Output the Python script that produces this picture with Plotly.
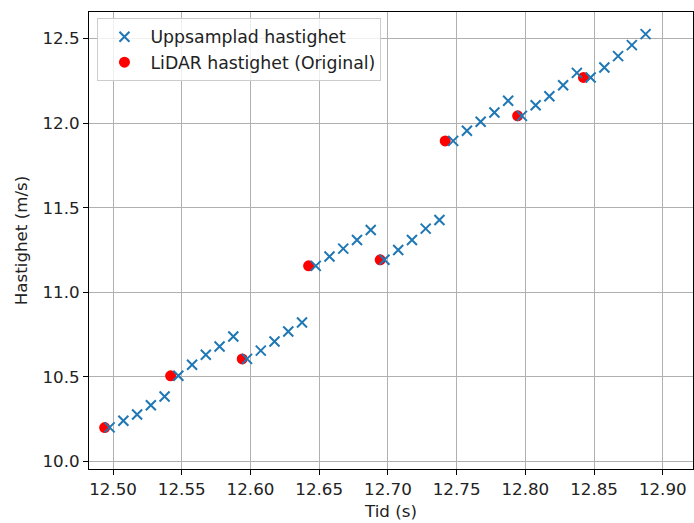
import plotly.graph_objects as go

# LiDAR speed samples (original rate)
lidar_time = [12.4939, 12.5419, 12.5940, 12.6423, 12.6944, 12.7417, 12.7944, 12.8423]
lidar_speed = [10.200, 10.506, 10.606, 11.156, 11.192, 11.895, 12.043, 12.270]

# Upsampled speed (100 Hz)
up_time = [
    12.4975, 12.5075, 12.5175, 12.5275, 12.5375,
    12.5475, 12.5575, 12.5675, 12.5775, 12.5875,
    12.5975, 12.6075, 12.6175, 12.6275, 12.6375,
    12.6475, 12.6575, 12.6675, 12.6775, 12.6875,
    12.6975, 12.7075, 12.7175, 12.7275, 12.7375,
    12.7475, 12.7575, 12.7675, 12.7775, 12.7875,
    12.7975, 12.8075, 12.8175, 12.8275, 12.8375,
    12.8475, 12.8575, 12.8675, 12.8775, 12.8875,
]
up_speed = [
    10.201, 10.240, 10.277, 10.332, 10.384,
    10.506, 10.571, 10.630, 10.679, 10.738,
    10.606, 10.655, 10.709, 10.768, 10.821,
    11.156, 11.211, 11.258, 11.309, 11.368,
    11.192, 11.250, 11.309, 11.376, 11.427,
    11.895, 11.955, 12.008, 12.063, 12.132,
    12.043, 12.106, 12.159, 12.224, 12.297,
    12.270, 12.329, 12.396, 12.461, 12.526,
]

FONT = "DejaVu Sans"
FS = 16.7

fig = go.Figure()
fig.add_trace(go.Scatter(
    x=lidar_time, y=lidar_speed, mode="markers",
    name="LiDAR hastighet (Original)", legendrank=2, legendgroup="lidar",
    marker=dict(color="red", size=11, line=dict(width=0)),
))
fig.add_trace(go.Scatter(
    x=up_time, y=up_speed, mode="markers",
    name="Uppsamplad hastighet", legendrank=1, legendgroup="up",
    marker=dict(symbol="x-thin", size=10, color="#1f77b4",
                line=dict(color="#1f77b4", width=2)),
))

axis_common = dict(
    showline=True, linecolor="black", linewidth=1, mirror=True,
    ticks="outside", ticklen=5, tickcolor="black", tickwidth=1,
    showgrid=True, gridcolor="#b0b0b0", gridwidth=1,
    zeroline=False, automargin=False,
    tickfont=dict(family=FONT, size=FS, color="#222222"),
)

fig.update_xaxes(
    range=[12.4825, 12.922], tick0=12.5, dtick=0.05, tickformat=".2f",
    title=dict(text="Tid (s)", font=dict(family=FONT, size=FS, color="#222222"), standoff=7),
    **axis_common,
)
fig.update_yaxes(
    range=[9.955, 12.657], tick0=10.0, dtick=0.5, tickformat=".1f",
    title=dict(text="Hastighet (m/s)", font=dict(family=FONT, size=FS, color="#222222"), standoff=10),
    **axis_common,
)

fig.update_layout(
    width=694, height=523,
    margin=dict(l=89, r=1, t=12, b=54),
    plot_bgcolor="white", paper_bgcolor="white",
    font=dict(family=FONT, size=FS, color="#222222"),
    legend=dict(
        x=0.014, y=0.987, xanchor="left", yanchor="top",
        bgcolor="rgba(255,255,255,0.8)", bordercolor="#cccccc", borderwidth=1,
        font=dict(family=FONT, size=17.3, color="#222222"),
        itemwidth=42, tracegroupgap=4, traceorder="normal",
    ),
    showlegend=True,
)

fig.write_html("out.html")
